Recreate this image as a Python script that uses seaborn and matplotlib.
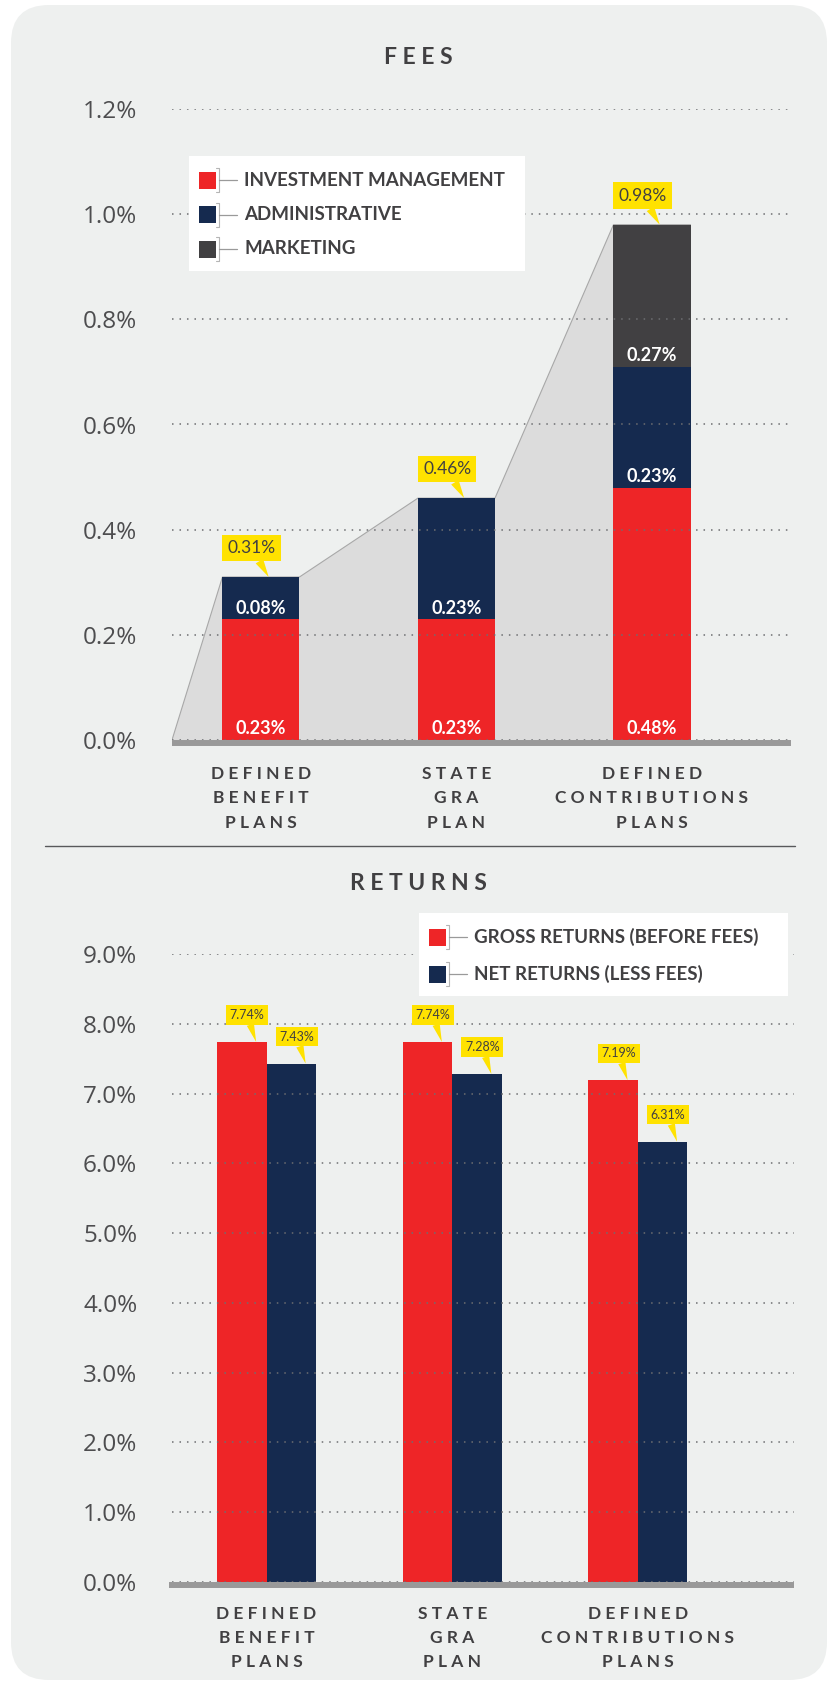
"""
Fees vs returns by plan type: stacked fee bars on top, gross/net returns below.
"""

import numpy as np
import pandas as pd
import matplotlib

matplotlib.use("Agg")
import matplotlib.pyplot as plt
import matplotlib.transforms as mtransforms
from matplotlib.patches import FancyBboxPatch, Rectangle
from matplotlib.lines import Line2D
import seaborn as sns


# ── data ────────────────────────────────────────────
PLANS = ["DEFINED\nBENEFIT\nPLANS", "STATE\nGRA\nPLAN", "DEFINED\nCONTRIBUTIONS\nPLANS"]

FEE_LABELS = ["INVESTMENT MANAGEMENT", "ADMINISTRATIVE", "MARKETING"]
INVESTMENT_MGMT = [0.23, 0.23, 0.48]
ADMINISTRATIVE = [0.08, 0.23, 0.23]
MARKETING = [0.00, 0.00, 0.27]
FEE_TICKS = [0.0, 0.2, 0.4, 0.6, 0.8, 1.0, 1.2]

RETURN_LABELS = ["GROSS RETURNS (BEFORE FEES)", "NET RETURNS (LESS FEES)"]
GROSS_RETURNS = [7.74, 7.74, 7.19]
NET_RETURNS = [7.43, 7.28, 6.31]
RETURN_TICKS = [0, 1, 2, 3, 4, 5, 6, 7, 8, 9]


COLORS = {
    "red":    "#EE2527",
    "navy":   "#152A4F",
    "gray":   "#414042",
    "yellow": "#FFE200",
    "text":   "#414042",
    "panel":  "#EEF0EF",
    "fill":   "#DCDCDC",
    "base":   "#999999",
    "grid":   "#6D6E71",
}

sns.set_theme(style="white")
plt.rcParams["font.family"] = ["Lato", "DejaVu Sans"]

W, H = 830, 1682
fig = plt.figure(figsize=(W / 100, H / 100), dpi=100, facecolor="white")
inch = fig.dpi_scale_trans


def P(x, y):
    """pixel position (from top-left) -> inches for dpi_scale_trans"""
    return x / 100, (H - y) / 100


def spaced(s):
    return "\n".join(" ".join(line) for line in s.split("\n"))


# rounded panel background
bg = FancyBboxPatch(P(11, 1680), 8.16, 16.75,
                    boxstyle="round,pad=0,rounding_size=0.38",
                    transform=inch, fc=COLORS["panel"], ec="none", zorder=-10)
fig.add_artist(bg)


def style_axis(ax, ticks, fmt, pad_x):
    ax.set_facecolor("none")
    for sp in ax.spines.values():
        sp.set_visible(False)
    ax.set_yticks(ticks)
    ax.set_yticklabels([fmt.format(t) for t in ticks],
                       fontfamily=["Open Sans", "DejaVu Sans"],
                       fontweight="normal", fontsize=17.5, color="#4D4D4F")
    ax.set_xticks(range(len(PLANS)))
    ax.set_xticklabels([spaced(p) for p in PLANS], fontsize=12.5,
                       fontweight="bold", color=COLORS["text"], linespacing=1.62)
    ax.tick_params(axis="y", length=0, pad=25)
    ax.tick_params(axis="x", length=0, pad=pad_x)
    ax.set_xlabel("")
    ax.set_ylabel("")
    ax.yaxis.grid(True, linestyle=(0, (1, 3.9)), linewidth=1.1,
                  color=COLORS["grid"])
    ax.xaxis.grid(False)
    ax.set_axisbelow(False)


def base_line(ax, x0=0.0, x1=1.0):
    tr = ax.get_yaxis_transform() + mtransforms.ScaledTranslation(0, -0.03, inch)
    ax.plot([x0, x1], [0, 0], transform=tr, color=COLORS["base"],
            lw=4.3, solid_capstyle="butt", clip_on=False, zorder=3)


def callout(ax, text, xy, offset, size, tail):
    ax.annotate(text, xy=xy, xytext=offset, textcoords="offset pixels",
                ha="center", va="center", fontsize=size, color=COLORS["text"],
                bbox=dict(boxstyle="square,pad=0.3", fc=COLORS["yellow"], ec="none"),
                arrowprops=dict(arrowstyle=f"wedge,tail_width={tail}",
                                fc=COLORS["yellow"], ec="none",
                                shrinkA=0, shrinkB=0),
                zorder=6, annotation_clip=False)


def legend_box(x0, y0, x1, y1, rows, labels, colors):
    fig.add_artist(Rectangle(P(x0, y1), (x1 - x0) / 100, (y1 - y0) / 100,
                             transform=inch, fc="white", ec="none", zorder=5))
    sq = 17
    for yc, lab, col in zip(rows, labels, colors):
        sx = x0 + 10
        fig.add_artist(Rectangle(P(sx, yc + sq / 2), sq / 100, sq / 100,
                                 transform=inch, fc=col, ec="none", zorder=6))
        r = sx + sq
        bx = [r, r + 3, r + 3, r]
        by = [yc - 12, yc - 12, yc + 12, yc + 12]
        fig.add_artist(Line2D([b / 100 for b in bx], [(H - b) / 100 for b in by],
                              transform=inch, color="#B5B5B5", lw=0.8, zorder=6))
        fig.add_artist(Line2D([(r + 3) / 100, (r + 21) / 100],
                              [(H - yc) / 100] * 2,
                              transform=inch, color="#9A9A9A", lw=0.9, zorder=6))
        fig.text(*P(r + 28, yc), lab, transform=inch, ha="left", va="center",
                 fontsize=13.5, fontweight="bold", color=COLORS["text"], zorder=7)


# ─────────────────────────────────────────────────────
# FEES
# ─────────────────────────────────────────────────────
ax1 = fig.add_axes([172 / W, 1 - 740 / H, 619 / W, 631 / H])

inv = np.array(INVESTMENT_MGMT)
adm = np.array(ADMINISTRATIVE)
mkt = np.array(MARKETING)
totals = inv + adm + mkt
mid = inv + adm

bar_kw = dict(width=0.394, saturation=1, linewidth=0, errorbar=None, zorder=2)
sns.barplot(x=PLANS, y=totals, color=COLORS["gray"], ax=ax1, **bar_kw)
top_bars = list(ax1.patches)
sns.barplot(x=PLANS, y=mid, color=COLORS["navy"], ax=ax1, **bar_kw)
sns.barplot(x=PLANS, y=inv, color=COLORS["red"], ax=ax1, **bar_kw)

ax1.set_xlim(-0.455, 2.711)
ax1.set_ylim(0, 1.2)
style_axis(ax1, FEE_TICKS, "{:.1f}%", 19)

# grey staircase area behind the bars
xs, ys = [ax1.get_xlim()[0]], [0.0]
for b in top_bars:
    xs += [b.get_x(), b.get_x() + b.get_width()]
    ys += [b.get_height(), b.get_height()]
ax1.fill(xs + [xs[-1]], ys + [0.0], color=COLORS["fill"], lw=0, zorder=0.5)
ax1.plot(xs, ys, color="#A8A8A8", lw=0.8, zorder=0.6)

base_line(ax1)

# white labels inside each segment
for b, segs in zip(top_bars, zip(inv, adm, mkt)):
    cx = b.get_x() + b.get_width() / 2
    bottom = 0.0
    for v in segs:
        if v > 0:
            ax1.annotate(f"{v:.2f}%", xy=(cx, bottom), xytext=(0, 11),
                         textcoords="offset pixels", ha="center", va="center",
                         color="white", fontweight="bold", fontsize=13, zorder=4)
        bottom += v

for b in top_bars:
    callout(ax1, f"{b.get_height():.2f}%",
            (b.get_x() + b.get_width() * 0.6, b.get_height()), (-17, 29), 12.5, 0.5)

fig.text(*P(418, 57), "F E E S", transform=inch, ha="center", va="center",
         fontsize=16.5, fontweight="bold", color=COLORS["text"])

legend_box(189, 156, 525, 271, [180, 214.5, 249], FEE_LABELS,
           [COLORS["red"], COLORS["navy"], COLORS["gray"]])

# separator
fig.add_artist(Line2D([0.45, 7.95], [(H - 846) / 100] * 2, transform=inch,
                      color="#58595B", lw=1.0))

# ─────────────────────────────────────────────────────
# RETURNS
# ─────────────────────────────────────────────────────
ax2 = fig.add_axes([172 / W, 1 - 1582 / H, 622 / W, 628 / H])

returns = pd.DataFrame({
    "plan": PLANS * 2,
    "kind": [RETURN_LABELS[0]] * 3 + [RETURN_LABELS[1]] * 3,
    "value": GROSS_RETURNS + NET_RETURNS,
})
sns.barplot(data=returns, x="plan", y="value", hue="kind",
            palette=[COLORS["red"], COLORS["navy"]], width=0.533,
            saturation=1, linewidth=0, errorbar=None, legend=False,
            ax=ax2, zorder=2)

ax2.set_xlim(-0.509, 2.840)
ax2.set_ylim(0, 9)
style_axis(ax2, RETURN_TICKS, "{:.1f}%", 17)
base_line(ax2, -0.005, 1.0)

for b in ax2.patches:
    h = b.get_height()
    if h > 0:
        callout(ax2, f"{h:.2f}%", (b.get_x() + b.get_width() * 0.79, h),
                (-9, 27), 9, 0.6)

fig.text(*P(418, 883), "R E T U R N S", transform=inch, ha="center", va="center",
         fontsize=16.5, fontweight="bold", color=COLORS["text"])

legend_box(419, 913, 788, 996, [937, 974], RETURN_LABELS,
           [COLORS["red"], COLORS["navy"]])

fig.savefig("out.png", dpi=100, facecolor="white")
plt.close(fig)
